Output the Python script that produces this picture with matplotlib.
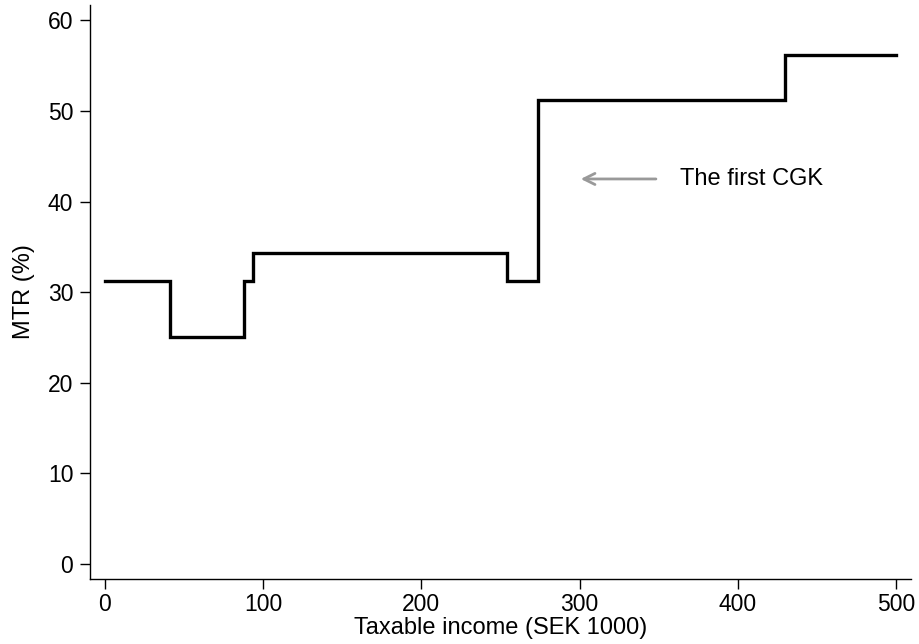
import numpy as np
import matplotlib
matplotlib.use("Agg")
from matplotlib import pyplot as plt

# income breakpoints (SEK 1000) and marginal tax rate on each segment
income_breaks = [0, 41, 88, 94, 254, 274, 430, 500]
mtr = [31.2, 25.0, 31.2, 34.3, 31.2, 51.2, 56.2]

x_ticks = [0, 100, 200, 300, 400, 500]
y_ticks = [0, 10, 20, 30, 40, 50, 60]

plt.rcParams['font.family'] = ['Liberation Sans', 'DejaVu Sans']

fig = plt.figure(figsize=(9.19, 6.44), dpi=100)
ax = fig.add_axes([0.0979, 0.1009, 0.8934, 0.8913])

# step line: repeat last value so the final segment is drawn
y_vals = mtr + [mtr[-1]]
ax.step(income_breaks, y_vals, where='post', color='black', lw=2.4,
        solid_joinstyle='miter')

ax.annotate('', xy=(299, 42.5), xytext=(350, 42.5),
            arrowprops=dict(arrowstyle='->', color='#999999', lw=2,
                            mutation_scale=20))
ax.text(363.5, 42.5, 'The first CGK', fontsize=17, va='center', ha='left')

ax.set_xlim(-9.3, 509.4)
ax.set_ylim(-1.66, 61.7)
ax.set_xticks(x_ticks)
ax.set_yticks(y_ticks)
ax.tick_params(labelsize=16.5, length=7, width=1, direction='out')
ax.tick_params(axis='x', pad=3)
ax.tick_params(axis='y', pad=5)

for s in ['top', 'right']:
    ax.spines[s].set_visible(False)
for s in ['left', 'bottom']:
    ax.spines[s].set_linewidth(1)

ax.set_xlabel('Taxable income (SEK 1000)', fontsize=17, labelpad=1)
ax.set_ylabel('MTR (%)', fontsize=17, labelpad=9)

fig.savefig('out.png', dpi=100)
